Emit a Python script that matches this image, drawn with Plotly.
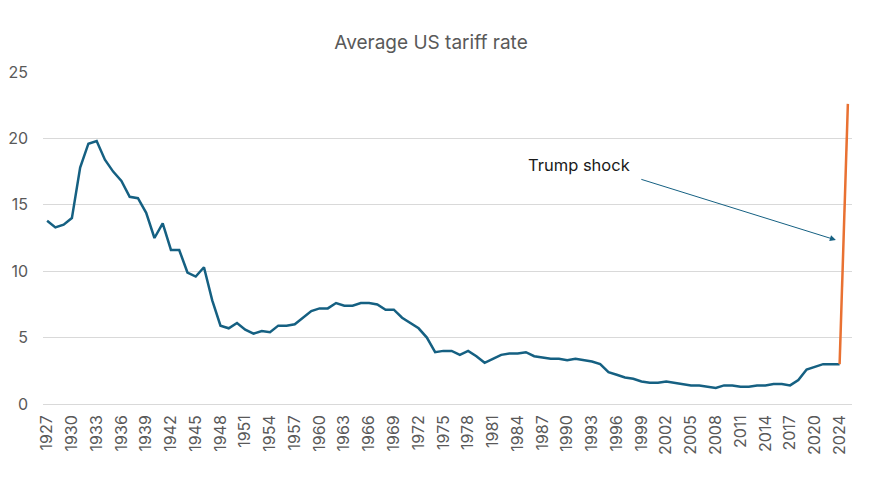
import plotly.graph_objects as go

# average US tariff rate (%)
YEARS = [str(y) for y in range(1927, 2021)] + ["2022", "2023", "2024"]
RATE = [
    13.8, 13.3, 13.5, 14.0, 17.8, 19.6, 19.8, 18.4, 17.5, 16.8,  # 1927-1936
    15.6, 15.5, 14.4, 12.5, 13.6, 11.6, 11.6, 9.9, 9.6, 10.3,  # 1937-1946
    7.8, 5.9, 5.7, 6.1, 5.6, 5.3, 5.5, 5.4, 5.9, 5.9,  # 1947-1956
    6.0, 6.5, 7.0, 7.2, 7.2, 7.6, 7.4, 7.4, 7.6, 7.6,  # 1957-1966
    7.5, 7.1, 7.1, 6.5, 6.1, 5.7, 5.0, 3.9, 4.0, 4.0,  # 1967-1976
    3.7, 4.0, 3.6, 3.1, 3.4, 3.7, 3.8, 3.8, 3.9, 3.6,  # 1977-1986
    3.5, 3.4, 3.4, 3.3, 3.4, 3.3, 3.2, 3.0, 2.4, 2.2,  # 1987-1996
    2.0, 1.9, 1.7, 1.6, 1.6, 1.7, 1.6, 1.5, 1.4, 1.4,  # 1997-2006
    1.3, 1.2, 1.4, 1.4, 1.3, 1.3, 1.4, 1.4, 1.5, 1.5,  # 2007-2016
    1.4, 1.8, 2.6, 2.8, 3.0, 3.0, 3.0,  # 2017-2020, 2022-2024
]
SHOCK_YEARS = ["2024", "2025"]
SHOCK_RATE = [3.0, 22.6]

ALL_YEARS = YEARS + ["2025"]
TICK_LABELS = ALL_YEARS[0:97:3]

BLUE = "#156082"
ORANGE = "#E97132"
GREY = "#595959"
FONT = "Inter, Roboto, Arial, sans-serif"

fig = go.Figure()
fig.add_trace(
    go.Scatter(
        x=YEARS,
        y=RATE,
        mode="lines",
        line=dict(color=BLUE, width=2.5),
        showlegend=False,
        hoverinfo="x+y",
    )
)
fig.add_trace(
    go.Scatter(
        x=SHOCK_YEARS,
        y=SHOCK_RATE,
        mode="lines",
        line=dict(color=ORANGE, width=2.5),
        showlegend=False,
        hoverinfo="x+y",
    )
)

# arrow pointing at the jump, label sits just left of its tail
fig.add_annotation(
    x=95.55,
    y=12.35,
    ax=71.8,
    ay=16.95,
    xref="x",
    yref="y",
    axref="x",
    ayref="y",
    text="",
    showarrow=True,
    arrowhead=2,
    arrowsize=1.2,
    arrowwidth=1,
    arrowcolor=BLUE,
)
fig.add_annotation(
    x=70.9,
    y=18.0,
    xref="x",
    yref="y",
    text="Trump shock",
    showarrow=False,
    xanchor="right",
    yanchor="middle",
    font=dict(family=FONT, size=16.5, color="#1a1a1a"),
)

# page body has an 8px margin, so the figure is 8px smaller each way
fig.update_layout(
    width=866,
    height=472,
    paper_bgcolor="white",
    plot_bgcolor="white",
    margin=dict(l=35, r=22, t=64, b=76),
    title=dict(
        text="Average US tariff rate",
        x=0.4885,
        xanchor="center",
        y=0.928,
        yanchor="middle",
        font=dict(family=FONT, size=19, color=GREY),
    ),
    xaxis=dict(
        type="category",
        categoryorder="array",
        categoryarray=ALL_YEARS,
        range=[-0.5, 97.5],
        tickmode="array",
        tickvals=TICK_LABELS,
        ticktext=TICK_LABELS,
        tickangle=-90,
        tickfont=dict(family=FONT, size=16, color=GREY),
        showgrid=False,
        showline=False,
        zeroline=False,
        ticks="",
        ticklabelstandoff=7,
        automargin=False,
    ),
    yaxis=dict(
        range=[0, 25],
        dtick=5,
        tickfont=dict(family=FONT, size=16, color=GREY),
        gridcolor="#d9d9d9",
        gridwidth=1,
        zeroline=True,
        zerolinecolor="#d9d9d9",
        zerolinewidth=1,
        showline=False,
        ticks="",
        ticklabelstandoff=14,
        automargin=False,
    ),
)

fig.write_html("out.html")
